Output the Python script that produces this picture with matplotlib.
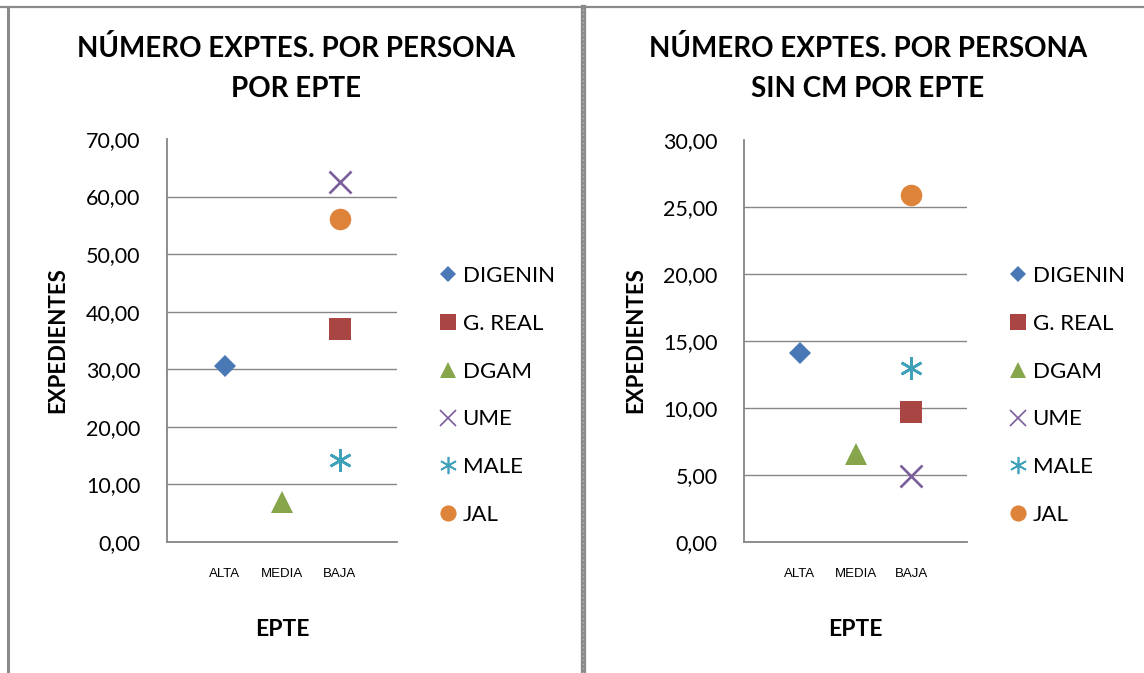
import numpy as np
import matplotlib.pyplot as plt
from matplotlib.lines import Line2D

# Data
categories = ['ALTA', 'MEDIA', 'BAJA']
series = ['DIGENIN', 'G. REAL', 'DGAM', 'UME', 'MALE', 'JAL']
series_cat = ['ALTA', 'BAJA', 'MEDIA', 'BAJA', 'BAJA', 'BAJA']
total_values = [30.5, 37.0, 6.9, 62.5, 14.3, 56.1]
sin_cm_values = [14.1, 9.7, 6.6, 4.9, 13.0, 25.9]

colors = ['#4A78B4', '#A94543', '#87A54A', '#7A5E9C', '#3FA0BA', '#DE833A']
markers = ['D', 's', '^', 'x', (6, 2, 0), 'o']
msizes = [11, 15.5, 16, 15.5, 16.5, 15.5]

W, H = 1144, 673
fig = plt.figure(figsize=(W / 100, H / 100), dpi=100)
plt.rcParams['font.family'] = ['Lato', 'DejaVu Sans']


def px(x0, y0, x1, y1):
    # pixel box -> figure fraction rect
    return [x0 / W, 1 - y1 / H, (x1 - x0) / W, (y1 - y0) / H]


def draw_panel(rect, values, ymax, ystep, title, title_x, ylabel_x, legend_x):
    ax = fig.add_axes(px(*rect))
    for name, cat, val, c, m, ms in zip(series, series_cat, values, colors, markers, msizes):
        xi = categories.index(cat) + 1
        mew = 1.9 if m in ('x', (6, 2, 0)) else 0
        ax.plot([xi], [val], linestyle='none', marker=m, markersize=ms,
                color=c, markeredgewidth=mew, label=name)
    ax.set_xlim(0, 4)
    ax.set_ylim(0, ymax)
    ax.set_xticks(range(1, len(categories) + 1))
    ax.set_xticklabels(categories, fontfamily='Liberation Sans', fontsize=9.5)
    yt = np.arange(0, ymax + ystep / 2, ystep)
    ax.set_yticks(yt)
    ax.set_yticklabels([f'{v:.2f}'.replace('.', ',') for v in yt], fontsize=15.5)
    ax.tick_params(axis='both', length=0, colors='#000000')
    ax.tick_params(axis='y', pad=19)
    ax.tick_params(axis='x', pad=19)
    ax.yaxis.grid(True, color='#868686', linewidth=1.0)
    ax.set_axisbelow(True)
    ax.get_ygridlines()[-1].set_visible(False)
    for s in ('top', 'right'):
        ax.spines[s].set_visible(False)
    for s in ('left', 'bottom'):
        ax.spines[s].set_color('#868686')
        ax.spines[s].set_linewidth(1.3)

    cx = (rect[0] + rect[2]) / 2
    fig.text(title_x / W, 1 - 35 / H, title, ha='center', va='top',
             fontsize=20, fontweight='bold', linespacing=1.68)
    fig.text(ylabel_x / W, 1 - 340 / H, 'EXPEDIENTES', rotation=90,
             ha='center', va='center', fontsize=16, fontweight='bold')
    fig.text(cx / W, 1 - 630 / H, 'EPTE', ha='center', va='center',
             fontsize=16.5, fontweight='bold')

    handles = [Line2D([], [], linestyle='none', marker=m, markersize=ms * 0.75,
                      color=c, markeredgewidth=(1.2 if m in ('x', (6, 2, 0)) else 0))
               for c, m, ms in zip(colors, markers, msizes)]
    fig.legend(handles, series, loc='upper left',
               bbox_to_anchor=(legend_x / W, 1 - 255 / H),
               frameon=False, fontsize=16, labelspacing=1.25,
               handlelength=0.9, handletextpad=0.2, borderpad=0)
    return ax


draw_panel((167, 139, 397, 542), total_values, 70, 10,
           'NÚMERO EXPTES. POR PERSONA\nPOR EPTE', 296, 58, 427)
draw_panel((744, 140, 967, 542), sin_cm_values, 30, 5,
           'NÚMERO EXPTES. POR PERSONA\nSIN CM POR EPTE', 868, 636, 997)

# outer frames and separator
frame = dict(color='#8A8A8A', transform=fig.transFigure, clip_on=False)
fig.add_artist(Line2D([0, 1], [1 - 7 / H] * 2, linewidth=1.6, **frame))
fig.add_artist(Line2D([7.5 / W] * 2, [0, 1 - 7 / H], linewidth=2.2, **frame))
fig.add_artist(Line2D([582.5 / W] * 2, [0, 1 - 7 / H], linewidth=3.8, **frame))
fig.add_artist(Line2D([582.5 / W] * 2, [0, 1 - 7 / H], linewidth=1.0,
                      linestyle=(0, (1, 2)), color='#B5B5B5',
                      transform=fig.transFigure, clip_on=False))

fig.savefig('out.png', dpi=100)
